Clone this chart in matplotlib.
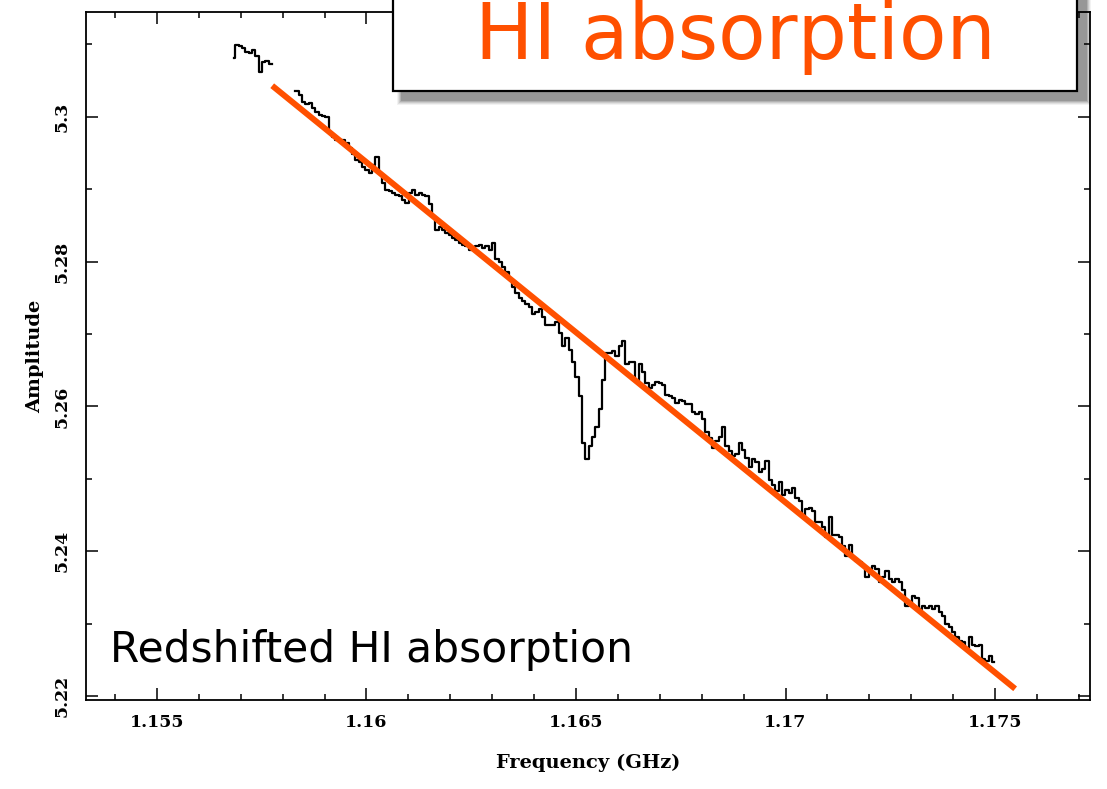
import numpy as np
import matplotlib
matplotlib.use('Agg')
from matplotlib import pyplot as plt
from matplotlib.patches import Rectangle
from matplotlib.ticker import MultipleLocator, FixedLocator, FixedFormatter

# spectrum channels (GHz); first block, gap of blanked channels, then main block
CHAN_START = 1.15683
CHAN_WIDTH = 0.00007955
AMP_FIRST = [5.3081, 5.3099, 5.3098, 5.3095, 5.3090, 5.3088, 5.3092, 5.3084,
             5.3062, 5.3076, 5.3077, 5.3073]
N_BLANK = 7
AMP_MAIN = [
    5.3035, 5.3030, 5.3021, 5.3018, 5.3019, 5.3012, 5.3006, 5.3003, 5.3001, 5.3000,
    5.2978, 5.2972, 5.2968, 5.2968, 5.2968, 5.2964, 5.2957, 5.2948, 5.2941, 5.2937,
    5.2931, 5.2927, 5.2923, 5.2934, 5.2945, 5.2923, 5.2909, 5.2899, 5.2897, 5.2895,
    5.2892, 5.2890, 5.2885, 5.2881, 5.2895, 5.2899, 5.2892, 5.2895, 5.2892, 5.2890,
    5.2879, 5.2862, 5.2844, 5.2848, 5.2844, 5.2840, 5.2837, 5.2833, 5.2830, 5.2826,
    5.2823, 5.2821, 5.2816, 5.2819, 5.2822, 5.2823, 5.2819, 5.2821, 5.2816, 5.2826,
    5.2803, 5.2799, 5.2793, 5.2786, 5.2775, 5.2765, 5.2757, 5.2750, 5.2745, 5.2741,
    5.2738, 5.2727, 5.2730, 5.2734, 5.2723, 5.2713, 5.2713, 5.2713, 5.2716, 5.2702,
    5.2683, 5.2695, 5.2678, 5.2661, 5.2640, 5.2614, 5.2550, 5.2527, 5.2545, 5.2558,
    5.2571, 5.2596, 5.2637, 5.2674, 5.2674, 5.2676, 5.2669, 5.2683, 5.2690, 5.2658,
    5.2662, 5.2661, 5.2634, 5.2658, 5.2648, 5.2633, 5.2626, 5.2630, 5.2634, 5.2633,
    5.2630, 5.2616, 5.2614, 5.2612, 5.2605, 5.2609, 5.2607, 5.2603, 5.2603, 5.2592,
    5.2589, 5.2592, 5.2582, 5.2565, 5.2557, 5.2543, 5.2552, 5.2558, 5.2571, 5.2545,
    5.2538, 5.2531, 5.2534, 5.2550, 5.2540, 5.2529, 5.2516, 5.2527, 5.2523, 5.2509,
    5.2513, 5.2524, 5.2499, 5.2492, 5.2483, 5.2496, 5.2478, 5.2485, 5.2481, 5.2488,
    5.2474, 5.2469, 5.2448, 5.2458, 5.2460, 5.2455, 5.2440, 5.2440, 5.2434, 5.2420,
    5.2447, 5.2423, 5.2423, 5.2420, 5.2407, 5.2393, 5.2409, 5.2391, 5.2386, 5.2385,
    5.2379, 5.2365, 5.2375, 5.2379, 5.2375, 5.2357, 5.2364, 5.2372, 5.2361, 5.2358,
    5.2361, 5.2358, 5.2347, 5.2324, 5.2329, 5.2338, 5.2336, 5.2320, 5.2324, 5.2322,
    5.2324, 5.2320, 5.2324, 5.2316, 5.2310, 5.2299, 5.2296, 5.2289, 5.2282, 5.2276,
    5.2274, 5.2267, 5.2281, 5.2271, 5.2269, 5.2271, 5.2251, 5.2248, 5.2255, 5.2247,
]

# straight baseline fit
FIT_FREQ = [1.15775, 1.17548]
FIT_AMP = [5.3043, 5.2210]

XTICKS = [1.155, 1.16, 1.165, 1.17, 1.175]
XTICK_LABELS = ['1.155', '1.16', '1.165', '1.17', '1.175']
YTICKS = [5.22, 5.24, 5.26, 5.28, 5.30]
YTICK_LABELS = ['5.22', '5.24', '5.26', '5.28', '5.3']

ORANGE = '#ff5000'
W, H = 1107, 789

amp = np.array(AMP_FIRST + [np.nan] * N_BLANK + AMP_MAIN)
freq = CHAN_START + CHAN_WIDTH * np.arange(len(amp))

fig = plt.figure(figsize=(W / 100, H / 100), dpi=100)
ax = fig.add_axes([86 / W, 89 / H, 1004 / W, 688 / H])

ax.plot(freq, amp, color='black', lw=1.6, drawstyle='steps-mid')
ax.plot(FIT_FREQ, FIT_AMP, color=ORANGE, lw=4.3, solid_capstyle='butt')

ax.set_xlim(1.153306, 1.177267)
ax.set_ylim(5.21945, 5.31448)

tick_font = dict(family='DejaVu Serif', size=12.5, weight='bold')
label_font = dict(family='DejaVu Serif', size=14, weight='bold')
ax.xaxis.set_major_locator(FixedLocator(XTICKS))
ax.xaxis.set_major_formatter(FixedFormatter(XTICK_LABELS))
ax.xaxis.set_minor_locator(MultipleLocator(0.001))
ax.yaxis.set_major_locator(FixedLocator(YTICKS))
ax.yaxis.set_major_formatter(FixedFormatter(YTICK_LABELS))
ax.yaxis.set_minor_locator(MultipleLocator(0.01))

ax.tick_params(which='both', direction='in', top=True, right=True, width=1.1, color='black')
ax.tick_params(which='major', length=8.6)
ax.tick_params(which='minor', length=4.3)
ax.tick_params(axis='x', pad=10)
ax.tick_params(axis='y', pad=11, labelrotation=90)
for lab in ax.get_xticklabels():
    lab.set_fontproperties(tick_font)
for lab in ax.get_yticklabels():
    lab.set_fontproperties(tick_font)
    lab.set_va('center')
for sp in ax.spines.values():
    sp.set_linewidth(1.3)

ax.set_xlabel('Frequency (GHz)', fontdict=label_font)
ax.set_ylabel('Amplitude', fontdict=label_font)
ax.xaxis.set_label_coords(0.5, (700 - 763) / 688)
ax.xaxis.label.set_va('center')
ax.yaxis.set_label_coords((35 - 86) / 1004, 0.5)
ax.yaxis.label.set_va('center')

# overlay in pixel coordinates for the slide annotations
ov = fig.add_axes([0, 0, 1, 1], zorder=5)
ov.set_xlim(0, W)
ov.set_ylim(H, 0)
ov.axis('off')

# soft shadow under the title box
for i, a in enumerate([0.05, 0.07, 0.09, 0.12, 0.15]):
    g = 5 - i
    ov.add_patch(Rectangle((393 + 9 - g, -30), 684 + 2 * g, 91 + 30 + 9 + g,
                           facecolor='black', edgecolor='none', alpha=a))
ov.add_patch(Rectangle((393, -30), 684, 121, facecolor='white',
                       edgecolor='black', lw=1.6))
ov.text(735, 59, 'HI absorption', color=ORANGE, fontsize=56,
        family='DejaVu Sans', ha='center', va='baseline')

ov.text(110, 662, 'Redshifted HI absorption', color='black', fontsize=30.5,
        family='DejaVu Sans', ha='left', va='baseline')

fig.savefig('out.png', dpi=100)
